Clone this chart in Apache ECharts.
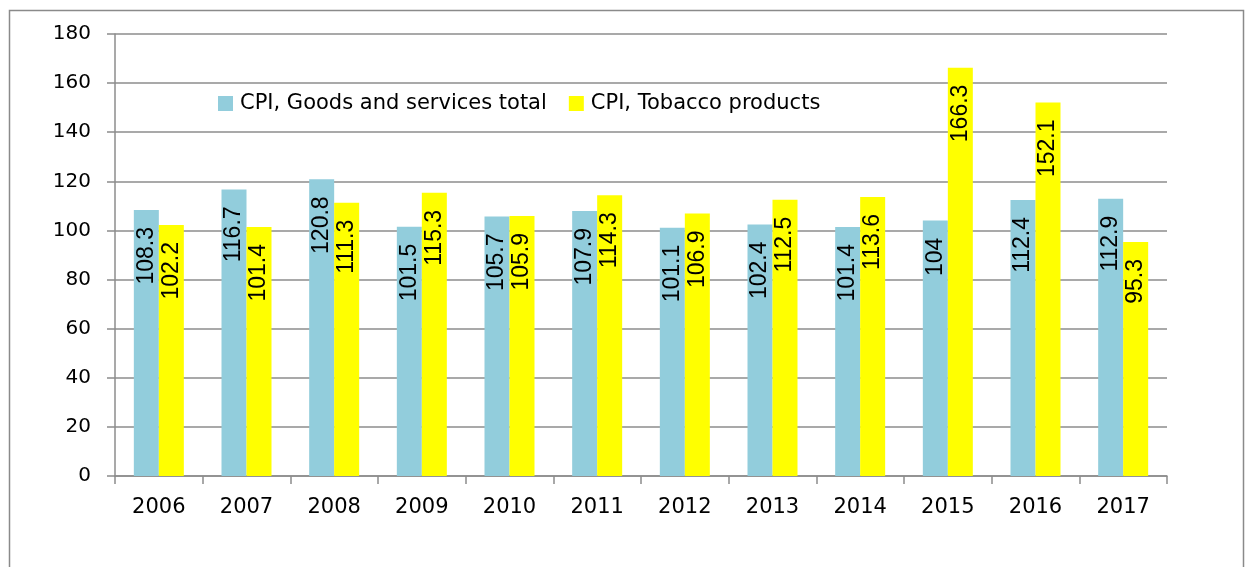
<!DOCTYPE html>
<html>
<head>
  <meta charset="utf-8">
</head>
<body style="margin: 0; background: #fff">
  <div id="container" style="width: 1246px; height: 567px"></div>
  <script type="text/javascript" src="https://fastly.jsdelivr.net/npm/echarts@6.0.0/dist/echarts.min.js"></script>
  <script type="text/javascript">
    var years = ['2006', '2007', '2008', '2009', '2010', '2011', '2012', '2013', '2014', '2015', '2016', '2017'];
    var cpiTotal = [108.3, 116.7, 120.8, 101.5, 105.7, 107.9, 101.1, 102.4, 101.4, 104, 112.4, 112.9];
    var cpiTobacco = [102.2, 101.4, 111.3, 115.3, 105.9, 114.3, 106.9, 112.5, 113.6, 166.3, 152.1, 95.3];
    var seriesNames = ['CPI, Goods and services total', 'CPI, Tobacco products'];

    var axisFont = 'DejaVu Sans';
    var gray = '#8c8c8c';

    var myChart = echarts.init(document.getElementById('container'));

    var barLabel = {
      show: true,
      position: 'insideTop',
      rotate: 90,
      align: 'right',
      verticalAlign: 'middle',
      distance: 17,
      color: '#000',
      fontFamily: 'Liberation Sans',
      fontSize: 23
    };

    var option = {
      animation: false,
      graphic: [
        {
          type: 'rect',
          shape: { x: 9.5, y: 10.5, width: 1234, height: 620 },
          style: { fill: 'none', stroke: '#8a8a8a', lineWidth: 1.5 },
          silent: true
        }
      ],
      legend: {
        left: 213,
        top: 88,
        itemWidth: 15,
        itemHeight: 15,
        itemGap: 22,
        icon: 'rect',
        textStyle: { fontFamily: axisFont, fontSize: 21, color: '#000', padding: [0, 0, 0, 2] },
        data: seriesNames
      },
      grid: {
        left: 115,
        right: 79,
        top: 34,
        bottom: 91
      },
      xAxis: {
        type: 'category',
        data: years,
        axisLine: { lineStyle: { color: gray, width: 1.5 } },
        axisTick: { show: true, length: 8, inside: false, lineStyle: { color: gray, width: 1.5 } },
        axisLabel: { margin: 21, color: '#000', fontFamily: axisFont, fontSize: 21 }
      },
      yAxis: {
        type: 'value',
        min: 0,
        max: 180,
        interval: 20,
        axisLine: { show: true, lineStyle: { color: gray, width: 1.5 } },
        axisTick: { show: true, length: 8, lineStyle: { color: gray, width: 1.5 } },
        splitLine: { lineStyle: { color: gray, width: 1.5 } },
        axisLabel: { margin: 24, color: '#000', fontFamily: axisFont, fontSize: 20 }
      },
      series: [
        {
          name: seriesNames[0],
          type: 'bar',
          data: cpiTotal,
          barWidth: 25,
          barGap: '0%',
          itemStyle: { color: '#92CDDC' },
          label: barLabel
        },
        {
          name: seriesNames[1],
          type: 'bar',
          data: cpiTobacco,
          barWidth: 25,
          barGap: '0%',
          itemStyle: { color: '#FFFF00' },
          label: barLabel
        }
      ]
    };

    myChart.setOption(option);
  </script>
</body>
</html>
